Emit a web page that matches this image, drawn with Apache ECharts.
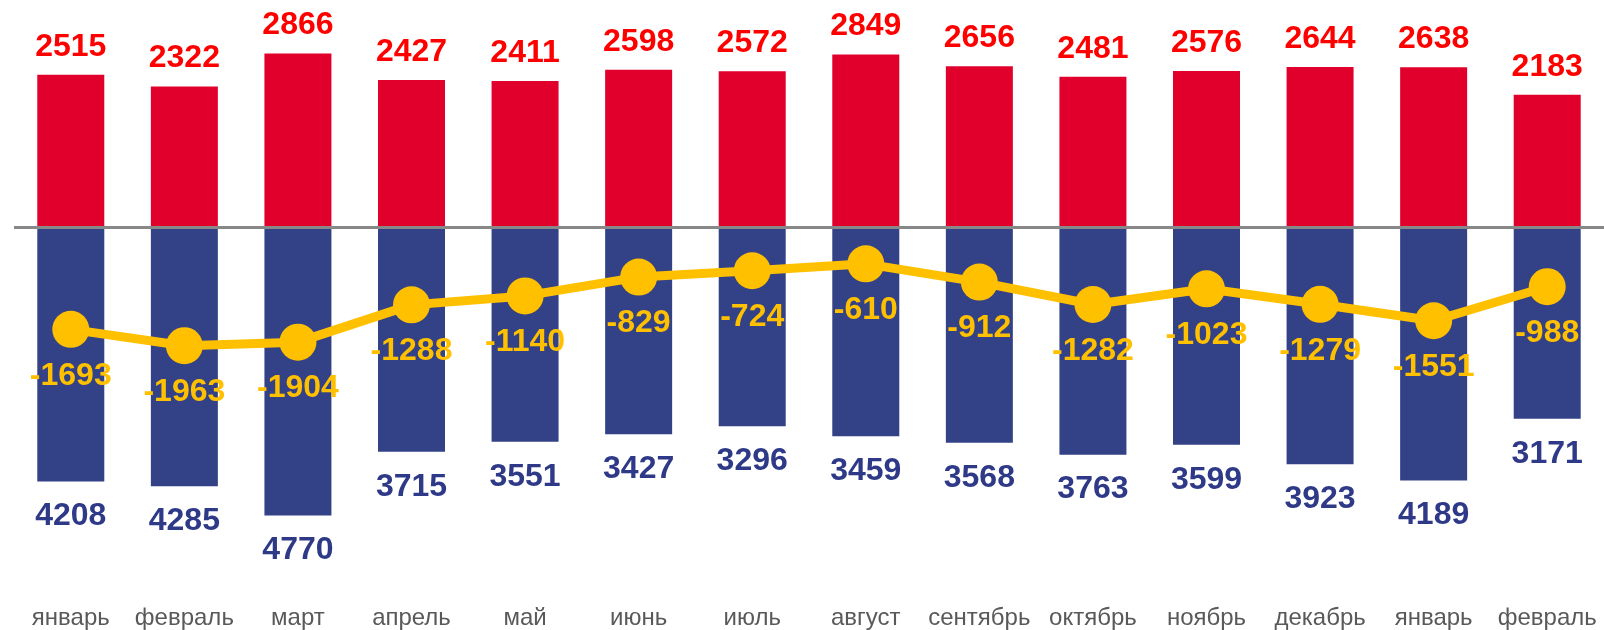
<!DOCTYPE html>
<html>
<head>
<meta charset="utf-8">
<script src="https://cdn.jsdelivr.net/npm/echarts@6/dist/echarts.min.js"></script>
<style>
  html, body { margin: 0; padding: 0; background: #fff; }
  #chart { width: 1604px; height: 630px; }
</style>
</head>
<body>
<div id="chart"></div>
<script>
// months
var months = ['январь', 'февраль', 'март', 'апрель', 'май', 'июнь', 'июль',
  'август', 'сентябрь', 'октябрь', 'ноябрь', 'декабрь', 'январь', 'февраль'];
// red bars (up)
var redVals = [2515, 2322, 2866, 2427, 2411, 2598, 2572, 2849, 2656, 2481, 2576, 2644, 2638, 2183];
// blue bars (drawn down, labelled positive)
var blueVals = [4208, 4285, 4770, 3715, 3551, 3427, 3296, 3459, 3568, 3763, 3599, 3923, 4189, 3171];
// yellow line
var balance = [-1693, -1963, -1904, -1288, -1140, -829, -724, -610, -912, -1282, -1023, -1279, -1551, -988];

var chart = echarts.init(document.getElementById('chart'));
var numFont = 'Liberation Sans, Arial, sans-serif';

var option = {
  animation: false,
  grid: { left: 14, right: 0, top: 0, bottom: 40 },
  xAxis: {
    type: 'category',
    data: months,
    position: 'bottom',
    axisLine: { show: false },
    axisTick: { show: false },
    axisLabel: {
      color: '#595959',
      fontSize: 24,
      fontFamily: 'Liberation Sans, Arial, sans-serif',
      margin: 16,
      interval: 0
    }
  },
  yAxis: {
    type: 'value',
    min: -6000,
    max: 3750,
    show: false,
    splitLine: { show: false }
  },
  series: [
    {
      type: 'bar',
      data: redVals,
      barWidth: 67,
      barGap: '-100%',
      itemStyle: { color: '#E0002B' },
      label: {
        show: true,
        position: 'top',
        distance: 12,
        color: '#FF0000',
        fontSize: 32,
        fontWeight: 'bold',
        fontFamily: numFont
      }
    },
    {
      type: 'bar',
      data: blueVals.map(function (v) { return -v; }),
      barWidth: 67,
      itemStyle: { color: '#334186' },
      label: {
        show: true,
        position: 'bottom',
        distance: 19,
        color: '#2E3987',
        fontSize: 32,
        fontWeight: 'bold',
        fontFamily: numFont,
        formatter: function (p) { return Math.abs(p.value); }
      },
      markLine: {
        silent: true,
        symbol: 'none',
        label: { show: false },
        lineStyle: { color: '#888888', width: 3, type: 'solid' },
        data: [{ yAxis: 0 }]
      }
    },
    {
      type: 'line',
      data: balance,
      z: 5,
      symbol: 'circle',
      symbolSize: 37,
      lineStyle: { color: '#FFC000', width: 9 },
      itemStyle: { color: '#FFC000' },
      label: {
        show: true,
        position: 'bottom',
        distance: 12,
        color: '#FFC000',
        fontSize: 32,
        fontWeight: 'bold',
        fontFamily: numFont
      }
    }
  ]
};
chart.setOption(option);
</script>
</body>
</html>
